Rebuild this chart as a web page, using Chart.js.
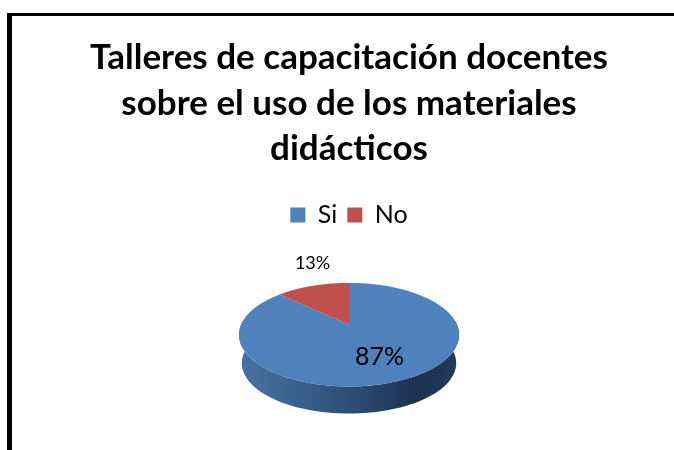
<!DOCTYPE html>
<html>
<head>
<meta charset="utf-8">
<title>Talleres de capacitación docentes</title>
<script src="https://cdn.jsdelivr.net/npm/chart.js@4/dist/chart.umd.js"></script>
<style>
  html, body { margin: 0; padding: 0; background: #fff; overflow: hidden; }
  #frame {
    position: absolute; left: 7px; top: 13px; width: 667px; height: 437px;
    box-sizing: border-box; border-left: 5px solid #000; border-top: 3px solid #000;
  }
  #chart { position: absolute; left: 0; top: 0; }
</style>
</head>
<body>
<div id="frame"></div>
<canvas id="chart" width="674" height="450"></canvas>
<script>
  var titleLines = [
    'Talleres de capacitación docentes',
    'sobre el uso de los materiales',
    'didácticos',
  ];
  var categories = ['Si', 'No'];
  var percents = [87, 13];
  var colors = ['#4f81bd', '#c0504d'];

  // tilted disc: k gives the perspective, so the apex sits above the ellipse centre
  var persp = -0.192;
  var squash = 0.462;
  var depth = 29;

  function project(arc, angle, r) {
    var u = Math.cos(angle) * r;
    var v = Math.sin(angle) * r;
    var w = 1 + persp * v;
    return {
      x: arc.x + (arc.outerRadius * u) / w,
      y: arc.y + (arc.outerRadius * squash * v) / w,
    };
  }

  function wallPath(ctx, arc) {
    var i, p, a;
    var steps = 80;
    ctx.beginPath();
    for (i = 0; i <= steps; i++) {
      a = Math.PI * 1.03 - (Math.PI * 1.06 * i) / steps;
      p = project(arc, a, 1);
      if (i === 0) ctx.moveTo(p.x, p.y);
      else ctx.lineTo(p.x, p.y);
    }
    for (i = steps; i >= 0; i--) {
      a = Math.PI * 1.03 - (Math.PI * 1.06 * i) / steps;
      p = project(arc, a, 0.975);
      ctx.lineTo(p.x, p.y + depth);
    }
    ctx.closePath();
  }

  var pie3d = {
    id: 'pie3d',
    beforeDatasetDraw: function (chart, args) {
      var ctx = chart.ctx;
      var arcs = args.meta.data;
      var first = arcs[0];
      var R = first.outerRadius;

      var grad = ctx.createLinearGradient(first.x - R, 0, first.x + R, 0);
      grad.addColorStop(0, '#47739f');
      grad.addColorStop(0.2, '#3d6592');
      grad.addColorStop(0.55, '#2a4a70');
      grad.addColorStop(0.8, '#1c3350');
      grad.addColorStop(1, '#213a58');
      ctx.save();
      wallPath(ctx, first);
      ctx.fillStyle = grad;
      ctx.fill();

      arcs.forEach(function (arc, idx) {
        var steps = 120;
        var i, p, a;
        ctx.beginPath();
        ctx.moveTo(arc.x, arc.y);
        for (i = 0; i <= steps; i++) {
          a = arc.startAngle + ((arc.endAngle - arc.startAngle) * i) / steps;
          p = project(arc, a, 1);
          ctx.lineTo(p.x, p.y);
        }
        ctx.closePath();
        ctx.fillStyle = colors[idx];
        ctx.fill();
      });
      ctx.restore();
      return false;
    },
    afterDatasetsDraw: function (chart) {
      var ctx = chart.ctx;
      chart.getDatasetMeta(0).data.forEach(function (arc, idx) {
        var mid = (arc.startAngle + arc.endAngle) / 2;
        var big = percents[idx] > 50;
        var p = project(arc, mid, big ? 0.63 : 1);
        ctx.save();
        ctx.fillStyle = '#000';
        ctx.textAlign = 'center';
        ctx.textBaseline = 'middle';
        ctx.font = (big ? 25 : 18) + 'px Lato';
        ctx.fillText(percents[idx] + '%', p.x, big ? p.y : p.y - 23);
        ctx.restore();
      });
    },
  };

  new Chart(document.getElementById('chart'), {
    type: 'pie',
    data: {
      labels: categories,
      datasets: [{ data: percents, backgroundColor: colors, borderWidth: 0, radius: 108 }],
    },
    plugins: [pie3d],
    options: {
      responsive: false,
      animation: false,
      layout: { padding: { left: 24, top: 35, bottom: 38 } },
      plugins: {
        tooltip: { enabled: false },
        title: {
          display: true,
          text: titleLines,
          color: '#000',
          font: { family: 'Lato', size: 35, weight: 'bold', lineHeight: 1.3 },
          padding: { top: 0, bottom: 21 },
        },
        legend: {
          position: 'top',
          labels: {
            color: '#000',
            boxWidth: 15,
            boxHeight: 15,
            padding: 10,
            font: { family: 'Lato', size: 25 },
          },
        },
      },
    },
  });
</script>
</body>
</html>
